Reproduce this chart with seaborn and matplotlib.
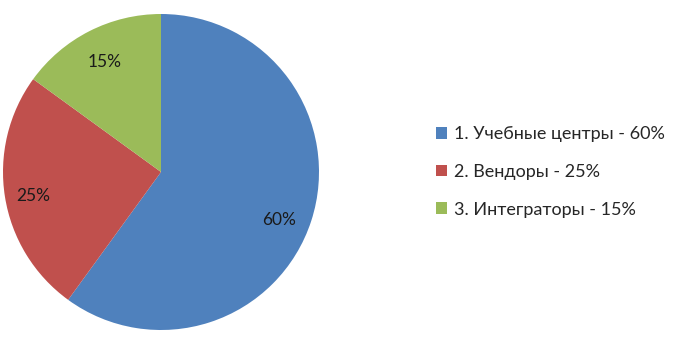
import matplotlib
matplotlib.use("Agg")
import matplotlib.pyplot as plt
import seaborn as sns
from matplotlib.patches import Patch

sns.set_theme(style="white")
plt.rcParams['font.family'] = ['Lato', 'DejaVu Sans']

categories = ["1. Учебные центры - 60%", "2. Вендоры - 25%", "3. Интеграторы - 15%"]
values = [60, 25, 15]
colors = ["#4F81BD", "#C0504D", "#9BBB59"]
# Excel "best fit" label nudges (in pie radius units)
label_nudges = [(0.006, -0.063), (-0.038, -0.032), (0.0, 0.0)]

fig = plt.figure(figsize=(6.76, 3.48), dpi=100)
ax = fig.add_axes([3/676, 1 - 330/348, 316/676, 316/348])
wedges, texts, autotexts = ax.pie(values, colors=colors, startangle=90, counterclock=False,
                                  autopct='%d%%', pctdistance=0.78,
                                  textprops=dict(fontsize=12.5, color='#1a1a1a'),
                                  wedgeprops=dict(linewidth=0))
for t, (dx, dy) in zip(autotexts, label_nudges):
    x, y = t.get_position()
    t.set_position((x + dx, y + dy))
ax.set_xlim(-1, 1)
ax.set_ylim(-1, 1)
ax.set_aspect('equal')

handles = [Patch(facecolor=c, edgecolor='none') for c in colors]
fig.legend(handles, categories, loc='center left', bbox_to_anchor=(436/676, 1 - 172/348),
           frameon=False, fontsize=13, handlelength=0.62, handleheight=0.62,
           handletextpad=0.35, labelspacing=1.2, borderaxespad=0, borderpad=0)

fig.savefig("out.png", dpi=100, facecolor='white')
